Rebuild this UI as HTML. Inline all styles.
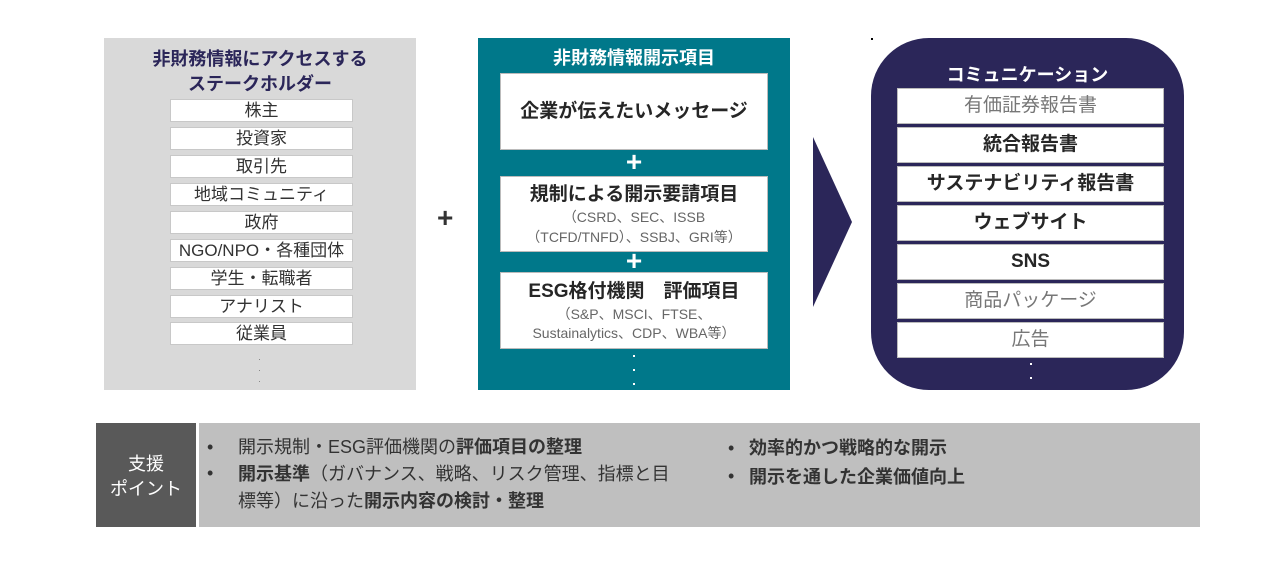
<!DOCTYPE html>
<html><head><meta charset="utf-8"><style>
*{margin:0;padding:0;box-sizing:border-box}
body{width:1280px;height:572px;background:#fff;position:relative;overflow:hidden;font-family:"Liberation Sans","Noto Sans CJK JP",sans-serif}
.a{position:absolute}
.c{text-align:center}
.gi{position:absolute;left:170px;width:183px;height:23px;background:#fff;border:1px solid #c8c8c8;font-size:17px;line-height:21px;text-align:center;color:#333}
.wb{position:absolute;left:500px;width:268px;background:#fff;border:1px solid #bbb;text-align:center;color:#262626}
.ni{position:absolute;left:897px;width:267px;height:36px;background:#fff;border:1px solid #bbb;text-align:center;line-height:34px;font-size:19px}
.dot{position:absolute;width:2px;height:2px;background:#fff}
</style></head><body>
<div class="a" style="left:104px;top:38px;width:312px;height:352px;background:#d9d9d9"></div>
<div class="a c" style="left:104px;top:47px;width:312px;font-size:18px;font-weight:bold;color:#2b2659;line-height:25px">非財務情報にアクセスする<br>ステークホルダー</div>
<div class="gi" style="top:99px">株主</div>
<div class="gi" style="top:127px">投資家</div>
<div class="gi" style="top:155px">取引先</div>
<div class="gi" style="top:183px">地域コミュニティ</div>
<div class="gi" style="top:211px">政府</div>
<div class="gi" style="top:239px">NGO/NPO・各種団体</div>
<div class="gi" style="top:267px">学生・転職者</div>
<div class="gi" style="top:295px">アナリスト</div>
<div class="gi" style="top:322px">従業員</div>
<div class="a" style="left:259px;top:359px;width:1px;height:1px;background:#888"></div>
<div class="a" style="left:259px;top:370px;width:1px;height:1px;background:#888"></div>
<div class="a" style="left:259px;top:381px;width:1px;height:1px;background:#888"></div>

<div class="a" style="left:437px;top:202px;font-size:28px;font-weight:bold;color:#333">+</div>

<div class="a" style="left:478px;top:38px;width:312px;height:352px;background:#00788a"></div>
<div class="a c" style="left:478px;top:44px;width:312px;font-size:18px;font-weight:bold;color:#fff">非財務情報開示項目</div>
<div class="wb" style="top:73px;height:77px;line-height:75px;font-size:19px;font-weight:bold">企業が伝えたいメッセージ</div>
<div class="a c" style="left:478px;top:147px;width:312px;font-size:28px;font-weight:bold;color:#fff;line-height:30px">+</div>
<div class="wb" style="top:176px;height:76px;padding-top:6px"><div style="font-size:19px;font-weight:bold;line-height:24px">規制による開示要請項目</div><div style="font-size:14px;color:#666;line-height:20px">（CSRD、SEC、ISSB<br>（TCFD/TNFD）、SSBJ、GRI等）</div></div>
<div class="a c" style="left:478px;top:246px;width:312px;font-size:28px;font-weight:bold;color:#fff;line-height:30px">+</div>
<div class="wb" style="top:272px;height:77px;padding-top:6px"><div style="font-size:19px;font-weight:bold;line-height:26px">ESG格付機関　評価項目</div><div style="font-size:14px;color:#666;line-height:19px">（S&amp;P、MSCI、FTSE、<br>Sustainalytics、CDP、WBA等）</div></div>
<div class="dot" style="left:633px;top:355px"></div>
<div class="dot" style="left:633px;top:369px"></div>
<div class="dot" style="left:633px;top:383px"></div>

<svg class="a" style="left:0;top:0" width="1280" height="572"><polygon points="813,137 852,222 813,307" fill="#2b2659"/><rect x="871" y="38" width="2" height="2" fill="#000"/></svg>

<div class="a" style="left:871px;top:38px;width:313px;height:352px;background:#2b2659;border-radius:58px"></div>
<div class="a c" style="left:871px;top:61px;width:313px;font-size:18px;font-weight:bold;color:#fff">コミュニケーション</div>
<div class="ni" style="top:88px;color:#777">有価証券報告書</div>
<div class="ni" style="top:127px;color:#262626;font-weight:bold">統合報告書</div>
<div class="ni" style="top:166px;color:#262626;font-weight:bold">サステナビリティ報告書</div>
<div class="ni" style="top:205px;color:#262626;font-weight:bold">ウェブサイト</div>
<div class="ni" style="top:244px;color:#262626;font-weight:bold">SNS</div>
<div class="ni" style="top:283px;color:#777">商品パッケージ</div>
<div class="ni" style="top:322px;color:#777">広告</div>
<div class="dot" style="left:1030px;top:363px"></div>
<div class="dot" style="left:1030px;top:377px"></div>

<div class="a" style="left:96px;top:423px;width:100px;height:104px;background:#595959"></div>
<div class="a c" style="left:96px;top:452px;width:100px;font-size:18px;color:#fff;line-height:25px">支援<br>ポイント</div>
<div class="a" style="left:199px;top:423px;width:1001px;height:104px;background:#bfbfbf"></div>
<div class="a" style="left:207px;top:434px;font-size:18px;color:#333;line-height:26px">•<br>•</div>
<div class="a" style="left:238px;top:434px;width:445px;font-size:18px;color:#333;line-height:27px">開示規制・ESG評価機関の<b>評価項目の整理</b><br><b>開示基準</b>（ガバナンス、戦略、リスク管理、指標と目標等）に沿った<b>開示内容の検討・整理</b></div>
<div class="a" style="left:728px;top:434px;font-size:18px;color:#333;line-height:28px">•<br>•</div>
<div class="a" style="left:749px;top:434px;font-size:18px;font-weight:bold;color:#333;line-height:29px">効率的かつ戦略的な開示<br>開示を通した企業価値向上</div>
</body></html>
